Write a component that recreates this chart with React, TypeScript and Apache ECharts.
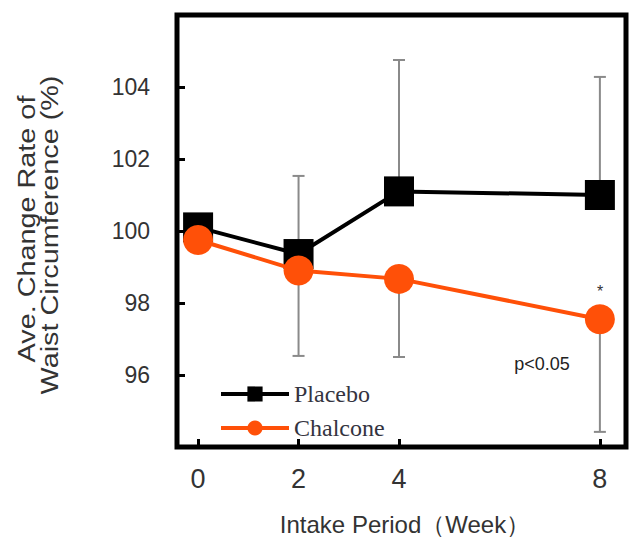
import React, { useEffect, useRef } from "react";
import * as echarts from "echarts";

// Intake period (weeks) and mean waist circumference change rate (%)
const weeks = [0, 2, 4, 8];
const placebo = [100.1, 99.36, 101.1, 101.0];
const chalcone = [99.75, 98.9, 98.67, 97.55];
// Standard deviations: placebo drawn upward, chalcone drawn downward
const placeboSD = [0, 2.17, 3.65, 3.28];
const chalconeSD = [0, 2.37, 2.17, 3.13];

const xTicks = [0, 2, 4, 8];
const yTicks = [96, 98, 100, 102, 104];

const BLACK = "#000000";
const ORANGE = "#ff5008";
const TEXT = "#333333";
const SANS = '"Liberation Sans", Arial, sans-serif';
const SERIF = '"Liberation Serif", "Times New Roman", serif';

function errorBars(values: number[], sd: number[], dir: number) {
  return weeks
    .map((w, i) => (sd[i] > 0 ? [w, values[i], values[i] + dir * sd[i]] : null))
    .filter((d) => d !== null) as number[][];
}

const renderBar = (params: any, api: any) => {
  const x = api.value(0);
  const p0 = api.coord([x, api.value(1)]);
  const p1 = api.coord([x, api.value(2)]);
  const cap = 6;
  const style = { stroke: "#8a8a8a", lineWidth: 2 };
  return {
    type: "group",
    children: [
      { type: "line", shape: { x1: p0[0], y1: p0[1], x2: p1[0], y2: p1[1] }, style },
      { type: "line", shape: { x1: p1[0] - cap, y1: p1[1], x2: p1[0] + cap, y2: p1[1] }, style },
    ],
  };
};

const centered = {
  align: "center",
  verticalAlign: "middle",
  textAlign: "center",
  textVerticalAlign: "middle",
};

export default function App() {
  const ref = useRef<HTMLDivElement>(null);

  useEffect(() => {
    if (!ref.current) return;
    const chart = echarts.init(ref.current, null, { renderer: "svg" });
    chart.setOption({
      animation: false,
      backgroundColor: "#ffffff",
      grid: {
        left: 177,
        right: 6,
        top: 15,
        bottom: 94,
        show: true,
        borderColor: BLACK,
        borderWidth: 5,
        backgroundColor: "transparent",
      },
      xAxis: {
        type: "value",
        min: -0.42,
        max: 8.52,
        axisLine: { show: false, onZero: false },
        splitLine: { show: false },
        axisTick: {
          show: true,
          inside: true,
          length: 8,
          customValues: xTicks,
          lineStyle: { color: BLACK, width: 3 },
        },
        axisLabel: {
          customValues: xTicks,
          fontSize: 27,
          color: TEXT,
          fontFamily: SANS,
          margin: 18,
        },
      },
      yAxis: {
        type: "value",
        min: 94,
        max: 106,
        axisLine: { show: false, onZero: false },
        splitLine: { show: false },
        axisTick: {
          show: true,
          inside: true,
          length: 8,
          customValues: yTicks,
          lineStyle: { color: BLACK, width: 3 },
        },
        axisLabel: {
          customValues: yTicks,
          fontSize: 23,
          color: TEXT,
          fontFamily: SANS,
          margin: 27,
        },
      },
      legend: {
        orient: "vertical",
        left: 214,
        top: 377,
        itemWidth: 68,
        itemHeight: 19,
        itemGap: 10,
        lineStyle: { width: 4 },
        textStyle: { fontFamily: SERIF, fontSize: 24, color: "#34343f" },
        data: ["Placebo", "Chalcone"],
      },
      series: [
        {
          type: "custom",
          name: "Placebo SD",
          data: errorBars(placebo, placeboSD, 1),
          renderItem: renderBar,
          silent: true,
          z: 1,
        },
        {
          type: "custom",
          name: "Chalcone SD",
          data: errorBars(chalcone, chalconeSD, -1),
          renderItem: renderBar,
          silent: true,
          z: 1,
        },
        {
          type: "line",
          name: "Placebo",
          data: weeks.map((w, i) => [w, placebo[i]]),
          symbol: "rect",
          symbolSize: 30,
          itemStyle: { color: BLACK },
          lineStyle: { color: BLACK, width: 4 },
          z: 3,
        },
        {
          type: "line",
          name: "Chalcone",
          data: weeks.map((w, i) => [w, chalcone[i]]),
          symbol: "circle",
          symbolSize: 30,
          itemStyle: { color: ORANGE },
          lineStyle: { color: ORANGE, width: 4 },
          z: 4,
        },
      ],
      graphic: [
        {
          type: "text",
          x: 27,
          y: 229,
          rotation: Math.PI / 2,
          scaleX: 1.2,
          style: { text: "Ave. Change Rate of", fontSize: 24, fontFamily: SANS, fill: TEXT, ...centered },
        },
        {
          type: "text",
          x: 50,
          y: 235,
          rotation: Math.PI / 2,
          scaleX: 1.2,
          style: { text: "Waist Circumference (%)", fontSize: 24, fontFamily: SANS, fill: TEXT, ...centered },
        },
        {
          type: "text",
          x: 405,
          y: 524,
          style: { text: "Intake Period（Week）", fontSize: 24, fontFamily: SANS, fill: TEXT, ...centered },
        },
        {
          type: "text",
          x: 600,
          y: 291,
          style: { text: "*", fontSize: 16, fontFamily: SANS, fill: TEXT, ...centered },
        },
        {
          type: "text",
          x: 542,
          y: 364,
          style: { text: "p<0.05", fontSize: 18, fontFamily: SANS, fill: "#222222", ...centered },
        },
      ],
    });
    return () => chart.dispose();
  }, []);

  return <div ref={ref} style={{ width: 632, height: 541, position: "absolute", left: 0, top: 0 }} />;
}
